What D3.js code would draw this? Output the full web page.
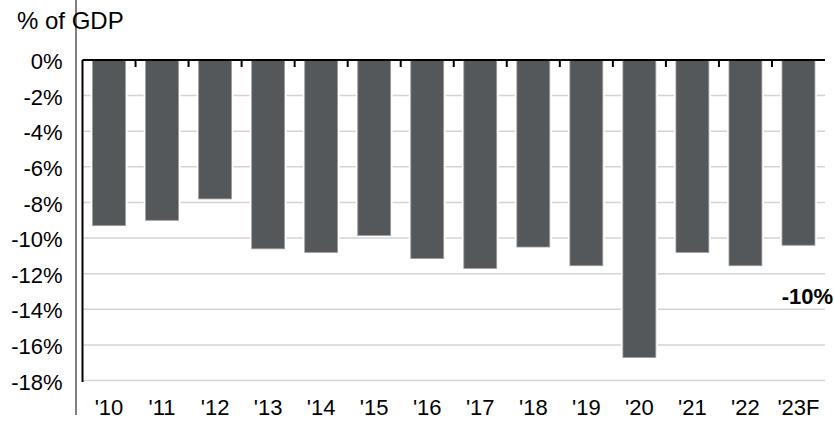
<!DOCTYPE html>
<html>
<head>
<meta charset="utf-8">
<script src="https://cdn.jsdelivr.net/npm/d3@7"></script>
<style>
  html, body { margin: 0; padding: 0; background: #fff; overflow: hidden; }
  svg { display: block; font-family: "Liberation Sans", Arial, sans-serif; }
</style>
</head>
<body>
<svg id="chart" width="834" height="421"></svg>
<script>
// Fiscal balance, % of GDP
const years = ["'10", "'11", "'12", "'13", "'14", "'15", "'16", "'17", "'18", "'19", "'20", "'21", "'22", "'23F"];
const balance = [-9.3, -9.0, -7.8, -10.6, -10.8, -9.85, -11.15, -11.7, -10.5, -11.55, -16.7, -10.8, -11.55, -10.4];
const yTicks = [0, -2, -4, -6, -8, -10, -12, -14, -16, -18];
const unitLabel = "% of GDP";

const svg = d3.select("#chart");
const plotLeft = 82.5, plotRight = 825, plotTop = 60, plotBottom = 380.6;

const x = d3.scaleBand().domain(years).range([plotLeft, plotRight]).paddingInner(0.38).paddingOuter(0.19);
const y = d3.scaleLinear().domain([0, -18]).range([plotTop, plotBottom]);

// horizontal gridlines
svg.append("g").selectAll("line").data(yTicks.filter(d => d !== 0)).join("line")
  .attr("x1", plotLeft).attr("x2", plotRight)
  .attr("y1", d => y(d)).attr("y2", d => y(d))
  .attr("stroke", "#d4d4d4").attr("stroke-width", 1.5);

// bars, with a white halo so gridlines stop short of them
svg.append("g").selectAll("rect").data(years).join("rect")
  .attr("x", d => x(d) - 2)
  .attr("width", x.bandwidth() + 4)
  .attr("y", y(0))
  .attr("height", (d, i) => y(balance[i]) - y(0))
  .attr("fill", "#fff");
svg.append("g").selectAll("rect").data(years).join("rect")
  .attr("x", d => x(d))
  .attr("width", x.bandwidth())
  .attr("y", y(0))
  .attr("height", (d, i) => y(balance[i]) - y(0))
  .attr("fill", "#55585b")
  .attr("stroke", "#9a9c9e").attr("stroke-width", 0.8);

// y axis labels
const yAxis = d3.axisLeft(y).tickValues(yTicks).tickFormat(d => d + "%").tickSize(0).tickPadding(20);
const gy = svg.append("g").attr("transform", `translate(${plotLeft},1.5)`).call(yAxis);
gy.select(".domain").remove();
gy.selectAll("text").attr("font-size", 22).attr("fill", "#000").attr("font-family", "Liberation Sans, Arial, sans-serif");

// left axis line
svg.append("line").attr("x1", plotLeft).attr("x2", plotLeft).attr("y1", plotTop).attr("y2", y(-18) + 1.5)
  .attr("stroke", "#000").attr("stroke-width", 2);

// zero axis line with ticks between bars
svg.append("line").attr("x1", plotLeft).attr("x2", plotRight).attr("y1", plotTop).attr("y2", plotTop)
  .attr("stroke", "#000").attr("stroke-width", 2.2);
const gap = x.step() - x.bandwidth();
svg.append("g").selectAll("line").data(years.slice(1)).join("line")
  .attr("x1", d => x(d) - gap / 2)
  .attr("x2", d => x(d) - gap / 2)
  .attr("y1", plotTop).attr("y2", plotTop + 7)
  .attr("stroke", "#000").attr("stroke-width", 2);

// category labels
svg.append("g").selectAll("text").data(years).join("text")
  .attr("x", d => x(d) + x.bandwidth() / 2)
  .attr("y", 415)
  .attr("text-anchor", "middle")
  .attr("font-size", 22)
  .text(d => d);

// thin frame line on the left
svg.append("line").attr("x1", 76).attr("x2", 76).attr("y1", 0).attr("y2", 415)
  .attr("stroke", "#000").attr("stroke-width", 1);

// unit title
svg.append("text").attr("x", 17).attr("y", 29).attr("font-size", 24).text(unitLabel);

// forecast value label
const last = balance[balance.length - 1];
svg.append("text").attr("x", 833).attr("y", 304).attr("text-anchor", "end")
  .attr("font-size", 22).attr("font-weight", "bold")
  .text(Math.round(last) + "%");
</script>
</body>
</html>
